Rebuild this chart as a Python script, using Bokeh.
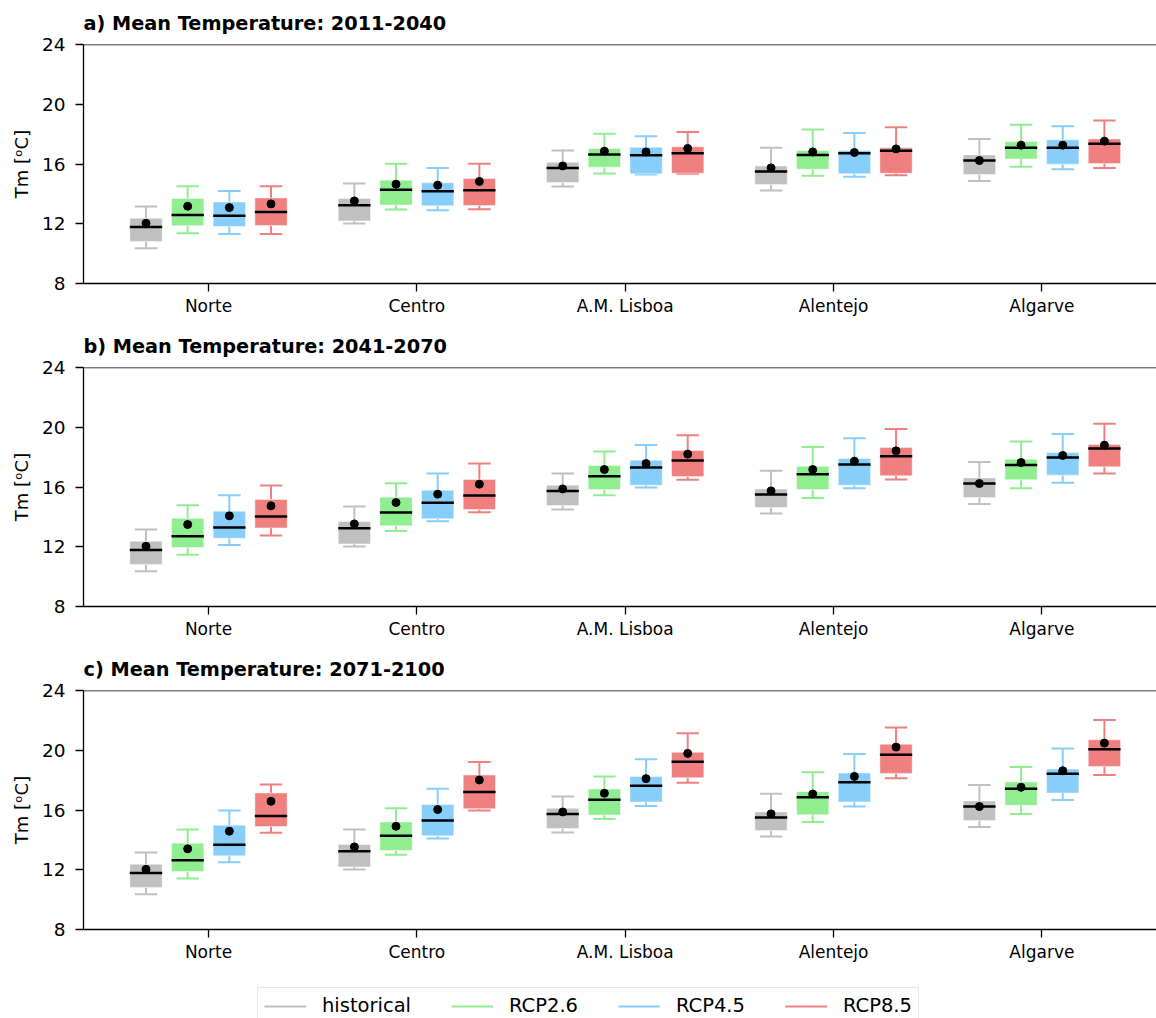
from bokeh.plotting import figure
from bokeh.models import ColumnDataSource, Range1d, FixedTicker, Span, Legend, LegendItem
from bokeh.transform import dodge
from bokeh.layouts import column
from bokeh.embed import file_html
from bokeh.resources import INLINE

REGIONS = ["Norte", "Centro", "A.M. Lisboa", "Alentejo", "Algarve"]
SCENARIOS = ["historical", "RCP2.6", "RCP4.5", "RCP8.5"]
COLORS = ["#c0c0c0", "#90ee90", "#87cefa", "#f08080"]
PERIODS = ["2011-2040", "2041-2070", "2071-2100"]
PANEL_TAGS = ["a)", "b)", "c)"]
Y_TICKS = [8, 12, 16, 20, 24]

# Mean temperature statistics per region, in REGIONS order:
# (lower whisker, Q1, median, Q3, upper whisker, mean)
historical = [
    (10.36, 10.82, 11.79, 12.37, 13.16, 12.03),
    (12.01, 12.19, 13.24, 13.69, 14.69, 13.53),
    (14.49, 14.76, 15.74, 16.12, 16.90, 15.87),
    (14.22, 14.62, 15.50, 15.87, 17.08, 15.74),
    (14.87, 15.29, 16.23, 16.61, 17.68, 16.23),
]

rcp26_2011_2040 = [
    (11.37, 11.86, 12.59, 13.69, 14.51, 13.17),
    (12.95, 13.26, 14.27, 14.92, 16.01, 14.65),
    (15.36, 15.79, 16.63, 17.04, 18.02, 16.86),
    (15.21, 15.65, 16.61, 16.90, 18.31, 16.81),
    (15.81, 16.34, 17.08, 17.50, 18.62, 17.26),
]
rcp45_2011_2040 = [
    (11.32, 11.81, 12.53, 13.46, 14.20, 13.08),
    (12.91, 13.20, 14.18, 14.74, 15.74, 14.58),
    (15.30, 15.34, 16.59, 17.12, 17.86, 16.81),
    (15.14, 15.34, 16.72, 16.90, 18.08, 16.77),
    (15.65, 15.99, 17.08, 17.62, 18.53, 17.26),
]
rcp85_2011_2040 = [
    (11.32, 11.88, 12.79, 13.73, 14.51, 13.33),
    (12.97, 13.22, 14.25, 15.03, 16.01, 14.83),
    (15.34, 15.38, 16.72, 17.15, 18.15, 17.04),
    (15.25, 15.38, 16.88, 17.08, 18.46, 17.01),
    (15.74, 16.03, 17.35, 17.68, 18.91, 17.53),
]

rcp26_2041_2070 = [
    (11.46, 11.95, 12.71, 13.91, 14.78, 13.49),
    (13.06, 13.40, 14.29, 15.32, 16.25, 14.96),
    (15.45, 15.83, 16.72, 17.44, 18.37, 17.17),
    (15.27, 15.83, 16.86, 17.39, 18.67, 17.17),
    (15.92, 16.48, 17.48, 17.86, 19.04, 17.64),
]
rcp45_2041_2070 = [
    (12.12, 12.57, 13.29, 14.38, 15.45, 14.07),
    (13.71, 13.87, 14.94, 15.79, 16.90, 15.52),
    (15.96, 16.12, 17.30, 17.79, 18.82, 17.57),
    (15.92, 16.12, 17.50, 17.91, 19.27, 17.73),
    (16.28, 16.79, 17.97, 18.31, 19.54, 18.11),
]
rcp85_2041_2070 = [
    (12.75, 13.26, 14.02, 15.16, 16.10, 14.74),
    (14.31, 14.49, 15.43, 16.50, 17.57, 16.19),
    (16.48, 16.70, 17.77, 18.44, 19.47, 18.20),
    (16.50, 16.75, 18.06, 18.64, 19.89, 18.42),
    (16.90, 17.35, 18.58, 18.84, 20.23, 18.80),
]

rcp26_2071_2100 = [
    (11.42, 11.88, 12.64, 13.78, 14.69, 13.40),
    (13.00, 13.29, 14.27, 15.20, 16.12, 14.91),
    (15.40, 15.67, 16.69, 17.41, 18.25, 17.12),
    (15.20, 15.69, 16.85, 17.23, 18.52, 17.07),
    (15.74, 16.32, 17.43, 17.88, 18.88, 17.52),
]
rcp45_2071_2100 = [
    (12.51, 12.93, 13.67, 14.98, 15.96, 14.58),
    (14.09, 14.27, 15.29, 16.36, 17.43, 16.03),
    (16.27, 16.54, 17.63, 18.25, 19.39, 18.10),
    (16.23, 16.54, 17.85, 18.48, 19.75, 18.25),
    (16.67, 17.14, 18.43, 18.74, 20.12, 18.63),
]
rcp85_2071_2100 = [
    (14.47, 14.89, 15.60, 17.14, 17.70, 16.58),
    (15.96, 16.09, 17.21, 18.34, 19.21, 18.01),
    (17.83, 18.16, 19.23, 19.86, 21.13, 19.79),
    (18.12, 18.45, 19.70, 20.41, 21.53, 20.21),
    (18.34, 18.92, 20.06, 20.70, 22.02, 20.48),
]

PANELS = [
    [historical, rcp26_2011_2040, rcp45_2011_2040, rcp85_2011_2040],
    [historical, rcp26_2041_2070, rcp45_2041_2070, rcp85_2041_2070],
    [historical, rcp26_2071_2100, rcp45_2071_2100, rcp85_2071_2100],
]

OFFSETS = [-0.3, -0.1, 0.1, 0.3]
BOX_W = 0.155
CAP_W = 0.108
FONT = "DejaVu Sans"
WIDTH = 1156


def stats_source(rows):
    lo, q1, med, q3, hi, mean = (list(c) for c in zip(*rows))
    return ColumnDataSource(dict(idx=list(range(len(rows))), lo=lo, q1=q1,
                                 med=med, q3=q3, hi=hi, mean=mean))


def make_panel(tag, period, series, height, border_bottom):
    p = figure(width=WIDTH, height=height,
               x_range=Range1d(-0.6, 4.55), y_range=Range1d(8, 24),
               output_backend="svg", toolbar_location=None,
               min_border_left=83, min_border_right=0,
               min_border_top=43, min_border_bottom=border_bottom,
               title=f"{tag} Mean Temperature: {period}")
    p.outline_line_color = None
    p.background_fill_color = "white"
    p.border_fill_color = "white"
    p.xgrid.visible = False
    p.ygrid.visible = False

    p.title.text_font = FONT
    p.title.text_font_size = "19.3px"
    p.title.text_font_style = "bold"
    p.title.align = "left"
    p.title.text_color = "black"
    p.title.standoff = 19

    for ax in (p.xaxis[0], p.yaxis[0]):
        ax.axis_line_width = 1.3
        ax.axis_line_color = "black"
        ax.major_tick_line_width = 1.3
        ax.major_tick_line_color = "black"
        ax.major_tick_out = 8
        ax.major_tick_in = 0
        ax.minor_tick_line_color = None
        ax.major_label_text_font = FONT
        ax.major_label_text_color = "black"

    p.xaxis.ticker = FixedTicker(ticks=list(range(len(REGIONS))))
    p.xaxis.major_label_overrides = {i: name for i, name in enumerate(REGIONS)}
    p.xaxis.major_label_text_font_size = "17px"
    p.xaxis.major_label_standoff = 4

    p.yaxis.ticker = FixedTicker(ticks=Y_TICKS)
    p.yaxis.major_label_text_font_size = "18.5px"
    p.yaxis.major_label_standoff = 10
    p.yaxis.axis_label = "Tm [\u1d52C]"
    p.yaxis.axis_label_text_font = FONT
    p.yaxis.axis_label_text_font_size = "18px"
    p.yaxis.axis_label_text_font_style = "normal"
    p.yaxis.axis_label_text_color = "black"
    p.yaxis.axis_label_standoff = 7

    # top spine only (the right side stays open)
    p.add_layout(Span(location=24, dimension="width", line_color="black", line_width=1.3))

    for off, color, rows in zip(OFFSETS, COLORS, series):
        src = stats_source(rows)
        xc = dodge("idx", off)
        # whiskers
        p.segment(x0=xc, y0="q3", x1=xc, y1="hi", source=src, line_color=color, line_width=2)
        p.segment(x0=xc, y0="lo", x1=xc, y1="q1", source=src, line_color=color, line_width=2)
        # caps
        p.segment(x0=dodge("idx", off - CAP_W / 2), y0="hi", x1=dodge("idx", off + CAP_W / 2), y1="hi",
                  source=src, line_color=color, line_width=2)
        p.segment(x0=dodge("idx", off - CAP_W / 2), y0="lo", x1=dodge("idx", off + CAP_W / 2), y1="lo",
                  source=src, line_color=color, line_width=2)
        # interquartile box
        p.vbar(x=xc, width=BOX_W, bottom="q1", top="q3", source=src,
               fill_color=color, line_color="white", line_alpha=0.45, line_width=1)
        # median
        p.segment(x0=dodge("idx", off - BOX_W / 2), y0="med", x1=dodge("idx", off + BOX_W / 2), y1="med",
                  source=src, line_color="black", line_width=2.5)
        # mean
        p.scatter(x=xc, y="mean", source=src, size=8, fill_color="black", line_color="black")
    return p


heights = [(323, 40), (323, 40), (329, 46)]
panels = [make_panel(tag, period, series, h, b)
          for tag, period, series, (h, b) in zip(PANEL_TAGS, PERIODS, PANELS, heights)]

# shared legend strip underneath the panels
leg = figure(width=WIDTH, height=43, x_range=Range1d(0, 1), y_range=Range1d(0, 1),
             x_axis_type=None, y_axis_type=None, output_backend="svg",
             toolbar_location=None, min_border=0)
leg.outline_line_color = None
leg.background_fill_color = "white"
leg.border_fill_color = "white"
items = []
for name, color in zip(SCENARIOS, COLORS):
    # the line sits outside the visible range; it only feeds the legend swatch
    r = leg.line(x=[5, 6], y=[5, 5], line_color=color, line_width=2)
    items.append(LegendItem(label=name, renderers=[r]))
legend = Legend(items=items, orientation="horizontal", location=(174, -6),
                padding=6, margin=0, spacing=40,
                glyph_width=42, glyph_height=20, label_height=20, label_standoff=16,
                label_text_font=FONT, label_text_font_size="19.5px",
                label_text_color="black", label_text_baseline="middle",
                border_line_color="#cccccc", border_line_width=1,
                background_fill_color="white", background_fill_alpha=0.8)
leg.add_layout(legend)

layout = column(*panels, leg, spacing=0)
open("out.html", "w").write(file_html(layout, INLINE))
